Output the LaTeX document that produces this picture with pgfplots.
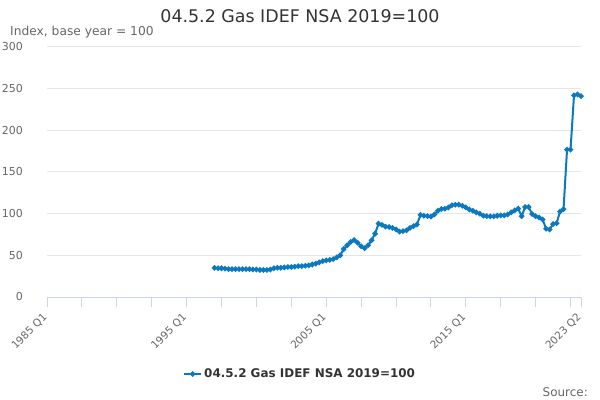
\documentclass[border=0pt]{standalone}
\usepackage{pgfplots}
\pgfplotsset{compat=1.18}
\usepackage{fontspec}
\setmainfont{DejaVu Sans}
\definecolor{linec}{RGB}{10,121,191}
\definecolor{gridc}{HTML}{E6E6E6}
\definecolor{axc}{HTML}{CCD6EB}
\definecolor{txtg}{HTML}{666666}
\definecolor{titc}{HTML}{333333}
\begin{document}
\begin{tikzpicture}
\path[use as bounding box] (0,0) rectangle (600bp,400bp);
\begin{axis}[
  at={(47bp,103bp)}, anchor=south west,
  scale only axis, width=534bp, height=250bp,
  xmin=0, xmax=153, ymin=0, ymax=300,
  axis x line*=bottom, axis y line*=left,
  x axis line style={draw=axc, line width=1bp},
  y axis line style={draw=none},
  ytick={0,50,...,300}, ytick style={draw=none},
  ymajorgrids, major grid style={draw=gridc, line width=1bp},
  xtick={0,10,...,150,153},
  xticklabels={1985 Q1,,,,1995 Q1,,,,2005 Q1,,,,2015 Q1,,,,2023 Q2},
  tick align=outside, major tick length=10bp,
  xtick style={draw=axc, line width=1bp},
  /pgf/number format/assume math mode=true,
  y tick label style={font=\fontsize{11}{13}\selectfont, text=txtg, anchor=east, inner sep=0pt, xshift=-14bp},
  x tick label style={font=\fontsize{10.5}{12}\selectfont, text=txtg, xshift=-5bp, yshift=-4bp, rotate=45, anchor=north east, inner sep=1bp},
  legend style={at={(0.474,-0.308)}, anchor=center, draw=none, fill=none,
     font=\fontsize{12}{14}\selectfont\bfseries, text=titc},
  clip=false,
]
\addplot[color=linec, line width=2bp, mark=*, mark size=1.6bp] table[x=i, y=v] {
i v
48 35
49 34.5
50 34.5
51 34
52 33.5
53 33.5
54 33.5
55 33.5
56 33.5
57 33.5
58 33.5
59 33
60 33
61 32.5
62 32.5
63 32.5
64 33
65 34.5
66 35
67 35
68 35.5
69 36
70 36
71 36.5
72 37
73 37
74 37.5
75 38
76 39
77 40
78 41.5
79 43
80 44
81 44.5
82 45.5
83 47.5
84 50
85 57.5
86 62
87 66
88 68.5
89 65
90 61
91 58.5
92 62
93 68
94 76
95 88
96 86.5
97 84.5
98 84
99 83
100 81
101 78.5
102 79
103 80
104 83
105 85
106 87
107 98.5
108 97.5
109 97
110 96.5
111 99
112 103.5
113 105.5
114 106
115 107.5
116 110
117 110.8
118 110.8
119 109.5
120 107.5
121 105
122 103.5
123 101.5
124 100
125 97.5
126 97
127 96.8
128 96.8
129 97.5
130 98
131 98
132 99
133 101.5
134 104
135 106
136 97
137 108
138 108
139 99.5
140 97
141 95.5
142 93
143 82
144 81
145 87.5
146 88.5
147 102.5
148 105.5
149 176.8
150 176.8
151 242
152 243
153 241
};
\addlegendentry{04.5.2 Gas IDEF NSA 2019=100}
\end{axis}
\node[anchor=base, text=titc, font=\fontsize{17.5}{20}\selectfont, inner sep=0pt] at (300bp,377bp) {04.5.2 Gas IDEF NSA 2019=100};
\node[anchor=base west, text=txtg, font=\fontsize{12.3}{14}\selectfont, inner sep=0pt] at (10bp,364bp) {Index, base year = 100};
\node[anchor=base east, text=txtg, font=\fontsize{12}{14}\selectfont, inner sep=0pt] at (588bp,4bp) {Source:};
\end{tikzpicture}
\end{document}
